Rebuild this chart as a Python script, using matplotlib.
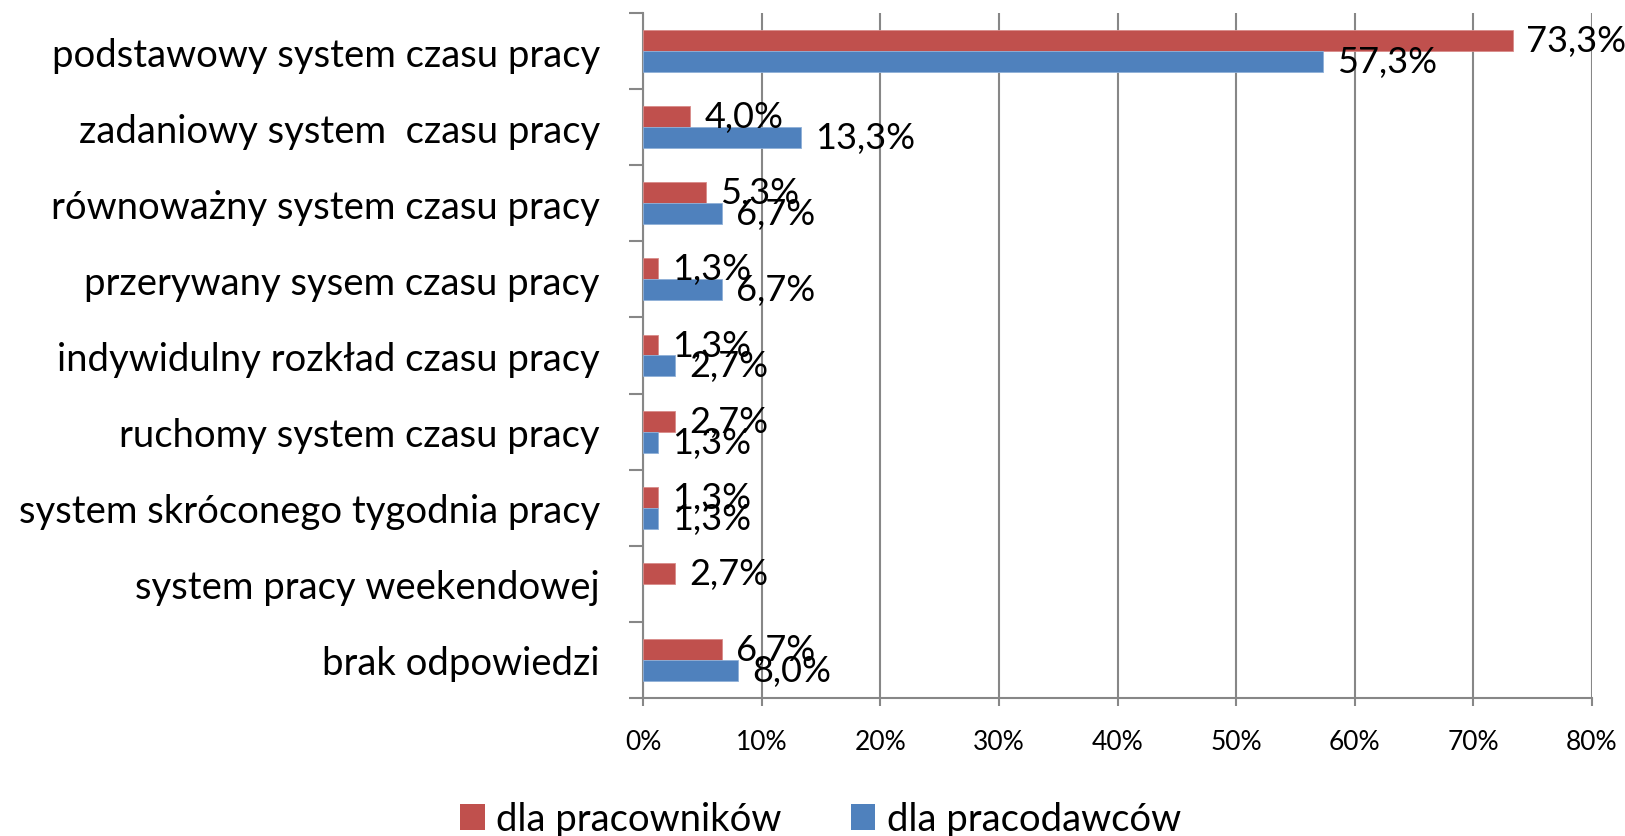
import numpy as np
import matplotlib
matplotlib.use("Agg")
import matplotlib.pyplot as plt
from matplotlib.patches import Patch

# -- Data (percent):
categories = ["podstawowy system czasu pracy",
              "zadaniowy system  czasu pracy",
              "równoważny system czasu pracy",
              "przerywany sysem czasu pracy",
              "indywidulny rozkład czasu pracy",
              "ruchomy system czasu pracy",
              "system skróconego tygodnia pracy",
              "system pracy weekendowej",
              "brak odpowiedzi"]
pracownicy = [73.3, 4.0, 5.3, 1.3, 1.3, 2.7, 1.3, 2.7, 6.7]
pracodawcy = [57.3, 13.3, 6.7, 6.7, 2.7, 1.3, 1.3, np.nan, 8.0]
series_names = ["dla pracowników", "dla pracodawców"]
xticks = [0, 10, 20, 30, 40, 50, 60, 70, 80]

RED = "#C0504D"
BLUE = "#4F81BD"
GRID = "#878787"

plt.rcParams['font.family'] = ['Lato', 'DejaVu Sans']

fig = plt.figure(figsize=(16.25, 8.37), dpi=100)
ax = fig.add_axes([0.3957, 0.1649, 0.5840, 0.8184])

y = np.arange(len(categories))
h = 0.275
ax.barh(y - h / 2, pracownicy, height=h, color=RED, edgecolor="#D98B89", linewidth=0.6, zorder=3)
ax.barh(y + h / 2, pracodawcy, height=h, color=BLUE, edgecolor="#8FB0D8", linewidth=0.6, zorder=3)

# -- Data labels:
def fmt(v):
    return ("%.1f%%" % v).replace(".", ",")

for i in range(len(categories)):
    for vals, off in ((pracownicy, -h / 2), (pracodawcy, h / 2)):
        v = vals[i]
        if np.isnan(v):
            continue
        ax.annotate(fmt(v), (v, i + off), xytext=(10, 0), textcoords="offset points",
                    va="center", ha="left", fontsize=26, color="black", zorder=5,
                    annotation_clip=False)

ax.set_xlim(0, 80)
ax.set_ylim(len(categories) - 0.5, -0.5)
ax.set_xticks(xticks)
ax.set_xticklabels(["%d%%" % t for t in xticks], fontsize=19)
ax.xaxis.grid(True, color=GRID, linewidth=1.5, zorder=0)
ax.tick_params(axis="x", direction="out", length=6, width=1.5, color=GRID, pad=16)

ax.set_yticks(y)
ax.set_yticklabels(categories, fontsize=27.5)
ax.set_yticks(np.arange(-0.5, len(categories)), minor=True)
ax.tick_params(axis="y", which="major", length=0, pad=31)
ax.tick_params(axis="y", which="minor", direction="out", length=10, width=1.5, color=GRID)

for s in ["top", "right"]:
    ax.spines[s].set_visible(False)
for s in ["left", "bottom"]:
    ax.spines[s].set_color(GRID)
    ax.spines[s].set_linewidth(1.5)

handles = [Patch(facecolor=RED), Patch(facecolor=BLUE)]
fig.legend(handles, series_names, loc="center", bbox_to_anchor=(0.505, 0.02), ncol=2,
           frameon=False, fontsize=27.5, handlelength=0.65, handleheight=0.65,
           handletextpad=0.3, columnspacing=1.8)

fig.savefig("out.png", dpi=100)
